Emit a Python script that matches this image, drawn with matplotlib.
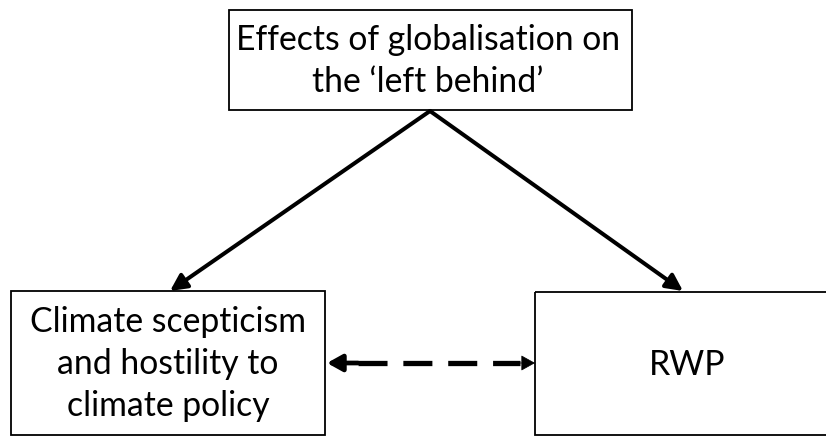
import matplotlib.pyplot as plt
from matplotlib.patches import Rectangle

# box labels
top_label = "Effects of globalisation on\nthe \u2018left behind\u2019"
left_label = "Climate scepticism\nand hostility to\nclimate policy"
right_label = "RWP"

plt.rcParams['font.family'] = ['Lato', 'DejaVu Sans']

fig = plt.figure(figsize=(8.26, 4.36), dpi=100)
ax = fig.add_axes([0, 0, 1, 1])
ax.set_xlim(0, 826)
ax.set_ylim(436, 0)
ax.axis('off')

# boxes: x0, y0, x1, y1, text centre x, label
boxes = [
    (229, 10, 632, 110, 428, top_label),
    (11, 291, 325, 435, 168, left_label),
    (535, 292, 830, 435, 687, right_label),
]
for x0, y0, x1, y1, tx, label in boxes:
    ax.add_patch(Rectangle((x0, y0), x1 - x0, y1 - y0, fill=False,
                           edgecolor='black', lw=1.3))
    ax.text(tx, (y0 + y1) / 2 + 1, label, ha='center', va='center',
            fontsize=24.3, linespacing=1.38, color='black')

# solid arrows from the top box
apex = (430, 111)
for tip in [(170, 291), (683, 291)]:
    ax.annotate('', xy=tip, xytext=apex,
                arrowprops=dict(arrowstyle='-|>,head_length=1.0,head_width=0.5',
                                lw=2.9, color='black', shrinkA=0, shrinkB=0))

# dashed double arrow
y = 363
ax.plot([358, 520], [y, y], color='black', lw=3.8, dashes=(5.5, 3), solid_capstyle='butt')
ax.annotate('', xy=(327, y), xytext=(358, y),
            arrowprops=dict(arrowstyle='-|>,head_length=0.9,head_width=0.5',
                            lw=3.4, color='black', shrinkA=0, shrinkB=0))
ax.annotate('', xy=(535, y), xytext=(520, y),
            arrowprops=dict(arrowstyle='-|>,head_length=0.9,head_width=0.5',
                            lw=0.5, color='black', shrinkA=0, shrinkB=0))

plt.savefig("out.png", dpi=100)
